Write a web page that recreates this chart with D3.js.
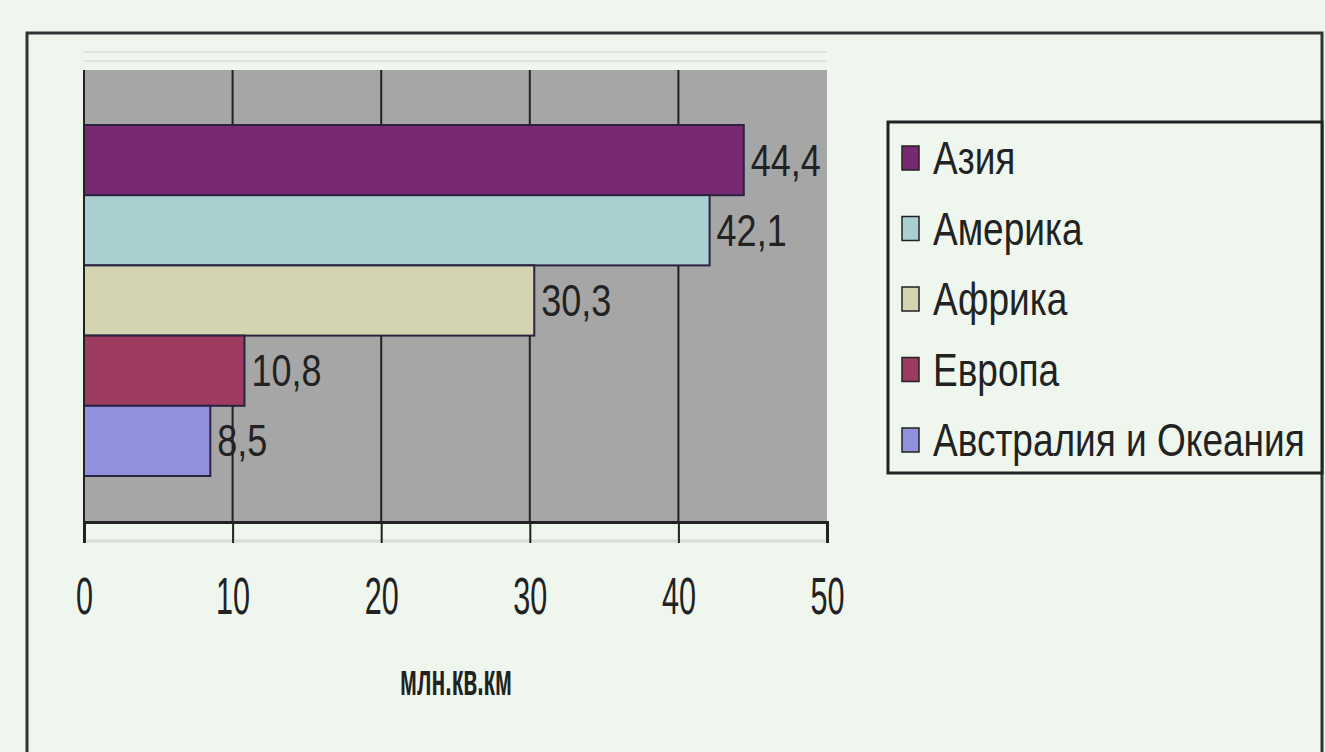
<!DOCTYPE html>
<html>
<head>
<meta charset="utf-8">
<script src="https://cdn.jsdelivr.net/npm/d3@7"></script>
<style>
  html, body { margin: 0; padding: 0; background: #eef6ee; }
  svg { display: block; }
  text { font-family: "Liberation Sans", Arial, sans-serif; fill: #222; }
</style>
</head>
<body>
<svg id="chart"></svg>
<script>
const regions = ['Азия', 'Америка', 'Африка', 'Европа', 'Австралия и Океания'];
const areas = [44.4, 42.1, 30.3, 10.8, 8.5];
const colors = ['#772a72', '#aacfd1', '#d5d4b0', '#9d3b60', '#9090de'];
const ticks = [0, 10, 20, 30, 40, 50];
const axisTitle = 'млн.кв.км';

const W = 1325, H = 752;
const stretch = 1.25; // the picture is drawn taller than wide
const svg = d3.select('#chart').attr('width', W).attr('height', H);

// outer frame
svg.append('rect')
  .attr('x', 27).attr('y', 33).attr('width', 1322 - 27).attr('height', H)
  .attr('fill', 'none').attr('stroke', '#333').attr('stroke-width', 3);

const plot = { left: 84, right: 827, top: 70, bottom: 522 };

const x = d3.scaleLinear().domain([0, 50]).range([plot.left, plot.right]);
const y = d3.scaleBand().domain(regions).range([125, 476]).padding(0);

// faint lines above the plot
[52, 61].forEach(yy => {
  svg.append('line')
    .attr('x1', plot.left).attr('x2', plot.right)
    .attr('y1', yy).attr('y2', yy)
    .attr('stroke', '#dfe3df').attr('stroke-width', 2);
});

// plot background
svg.append('rect')
  .attr('x', plot.left).attr('y', plot.top)
  .attr('width', plot.right - plot.left).attr('height', plot.bottom - plot.top)
  .attr('fill', '#a6a6a6');

// gridlines
svg.append('g')
  .selectAll('line')
  .data(ticks.filter(t => t > 0 && t < 50))
  .join('line')
  .attr('x1', d => x(d)).attr('x2', d => x(d))
  .attr('y1', plot.top).attr('y2', plot.bottom)
  .attr('stroke', '#222').attr('stroke-width', 2);

// bars
svg.append('g')
  .selectAll('rect')
  .data(regions)
  .join('rect')
  .attr('x', x(0))
  .attr('y', d => y(d))
  .attr('width', (d, i) => x(areas[i]) - x(0))
  .attr('height', y.bandwidth())
  .attr('fill', (d, i) => colors[i])
  .attr('stroke', '#2a2340').attr('stroke-width', 2);

// value labels
svg.append('g')
  .selectAll('text')
  .data(regions)
  .join('text')
  .attr('transform', (d, i) => `translate(${x(areas[i]) + 7},${y(d) + y.bandwidth() / 2}) scale(1,${stretch})`)
  .attr('dominant-baseline', 'central')
  .attr('font-size', 36)
  .text((d, i) => String(areas[i]).replace('.', ','));

// light line under axis
svg.append('line')
  .attr('x1', plot.left).attr('x2', plot.right)
  .attr('y1', 541).attr('y2', 541)
  .attr('stroke', '#d8dcd8').attr('stroke-width', 3);

// x axis
const xAxis = svg.append('g')
  .attr('transform', `translate(0,${plot.bottom})`)
  .call(d3.axisBottom(x).tickValues(ticks).tickSize(21).tickFormat(d3.format('d')));
xAxis.select('.domain').attr('stroke', '#222').attr('stroke-width', 3);
xAxis.selectAll('.tick line').attr('stroke', '#222').attr('stroke-width', 2);
xAxis.selectAll('.tick text')
  .attr('y', 0).attr('dy', null)
  .attr('transform', `translate(0,74) scale(0.85,${stretch * 1.15})`)
  .attr('dominant-baseline', 'central')
  .attr('font-size', 36)
  .attr('font-family', '"Liberation Sans", Arial, sans-serif')
  .attr('fill', '#222');

// y axis line
svg.append('line')
  .attr('x1', plot.left).attr('x2', plot.left)
  .attr('y1', plot.top).attr('y2', plot.bottom)
  .attr('stroke', '#222').attr('stroke-width', 2);

// axis title
svg.append('text')
  .attr('transform', `translate(456,680) scale(1,${stretch})`)
  .attr('dominant-baseline', 'central')
  .attr('text-anchor', 'middle')
  .attr('font-size', 35)
  .attr('font-weight', 'bold')
  .attr('textLength', 112)
  .attr('lengthAdjust', 'spacingAndGlyphs')
  .text(axisTitle);

// legend
const legend = svg.append('g');
legend.append('rect')
  .attr('x', 888).attr('y', 122).attr('width', 1322 - 888).attr('height', 351)
  .attr('fill', '#eef6ee').attr('stroke', '#222').attr('stroke-width', 3);

const ly = d3.scalePoint().domain(regions).range([158, 440]);
const items = legend.selectAll('g.item')
  .data(regions)
  .join('g')
  .attr('class', 'item')
  .attr('transform', d => `translate(0,${ly(d)})`);
items.append('rect')
  .attr('x', 902).attr('y', -12).attr('width', 17).attr('height', 24)
  .attr('fill', (d, i) => colors[i])
  .attr('stroke', '#222').attr('stroke-width', 1.5);
items.append('text')
  .attr('transform', `translate(933,0) scale(1,${stretch})`)
  .attr('dominant-baseline', 'central')
  .attr('font-size', 37)
  .text(d => d);
</script>
</body>
</html>
